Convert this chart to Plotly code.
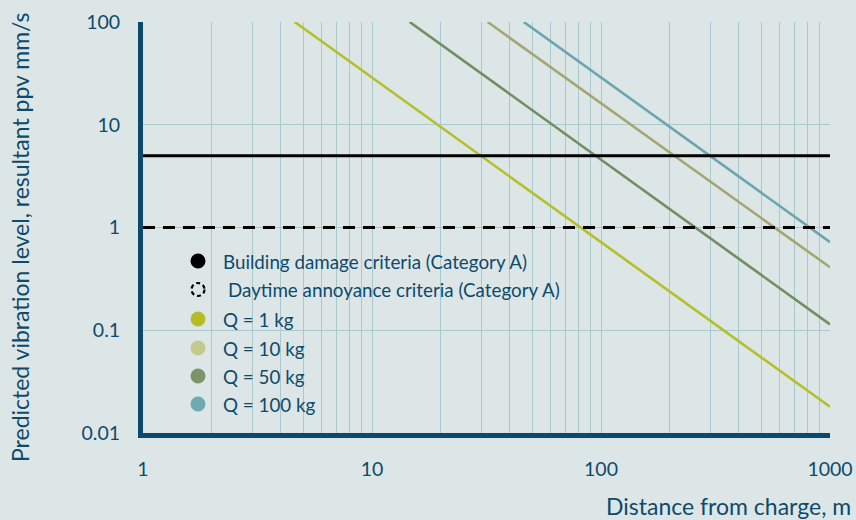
import plotly.graph_objects as go

# ---- data ----
charges = ["Q = 1 kg", "Q = 10 kg", "Q = 50 kg", "Q = 100 kg"]
# endpoints of each predicted-ppv line (distance m, ppv mm/s)
q1_x, q1_y = [4.6, 1000], [100, 0.018]
q10_x, q10_y = [14.6, 1000], [100, 0.114]
q50_x, q50_y = [32, 1000], [100, 0.41]
q100_x, q100_y = [46, 1000], [100, 0.72]

criteria_names = ["Building damage criteria (Category A)", "Daytime annoyance criteria (Category A)"]
criteria_values = [5, 1]
criteria_x = [1, 1000]

x_tickvals = [1, 2, 3, 4, 5, 6, 7, 8, 9,
              10, 20, 30, 40, 50, 60, 70, 80, 90,
              100, 200, 300, 400, 500, 600, 700, 800, 900, 1000]
x_ticktext = ["1"] + [""] * 8 + ["10"] + [""] * 8 + ["100"] + [""] * 8 + ["1000"]
y_tickvals = [0.01, 0.1, 1, 10, 100]
y_ticktext = ["0.01", "0.1", "1", "10", "100"]

# ---- styles ----
BG = "#dde6e7"
NAVY = "#0b4a6e"
TEXT = "#0d4a6b"
GRID = "#a9c9cd"
FONT = "Lato"
line_colors = ["#b4bf2a", "#6f8e62", "#a3a66e", "#6aa5b0"]
legend_colors = ["#b5bd25", "#c6c98d", "#7a9668", "#6fa9b1"]

fig = go.Figure()

series = [(q1_x, q1_y), (q10_x, q10_y), (q50_x, q50_y), (q100_x, q100_y)]
for (xs, ys), name, col in zip(series, charges, line_colors):
    fig.add_trace(go.Scatter(x=xs, y=ys, mode="lines", name=name,
                             line=dict(color=col, width=2.6), showlegend=False))

for val, name, dash in zip(criteria_values, criteria_names, ["solid", "12px,8px"]):
    fig.add_trace(go.Scatter(x=criteria_x, y=[val, val], mode="lines", name=name,
                             line=dict(color="#000000", width=3, dash=dash),
                             showlegend=False))

# ---- manual legend ----
L, R, T, B = 143, 26, 22, 87
W, H = 856, 520
pw, ph = W - L - R, H - T - B

def px(xp):
    return (xp - L) / pw

def py(yp):
    return (H - B - yp) / ph

legend_rows = [261, 289.5, 319, 348, 376, 404]
legend_labels = criteria_names + charges
marker_fill = ["#000000", None] + legend_colors
marker_x = 198
text_x = [221, 226, 221, 221, 221, 221]
shapes = []
annotations = []
for i, (yr, lab, fill) in enumerate(zip(legend_rows, legend_labels, marker_fill)):
    if fill is None:
        shapes.append(dict(type="circle", xref="paper", yref="paper",
                           xsizemode="pixel", ysizemode="pixel",
                           xanchor=px(marker_x), yanchor=py(yr),
                           x0=-6.5, x1=6.5, y0=-6.5, y1=6.5,
                           line=dict(color="#000000", width=2.2, dash="4px,3px"),
                           fillcolor="rgba(0,0,0,0)"))
    else:
        shapes.append(dict(type="circle", xref="paper", yref="paper",
                           xsizemode="pixel", ysizemode="pixel",
                           xanchor=px(marker_x), yanchor=py(yr),
                           x0=-7.5, x1=7.5, y0=-7.5, y1=7.5,
                           line=dict(width=0), fillcolor=fill))
    annotations.append(dict(text=lab, x=px(text_x[i]), y=py(yr), xref="paper", yref="paper",
                            xanchor="left", yanchor="middle", showarrow=False,
                            font=dict(family=FONT, size=18.8, color=TEXT)))

# axis titles
annotations.append(dict(text="Predicted vibration level, resultant ppv mm/s",
                        x=px(20), y=py(237), xref="paper", yref="paper",
                        xanchor="center", yanchor="middle", textangle=-90, showarrow=False,
                        font=dict(family=FONT, size=23, color=TEXT)))
annotations.append(dict(text="Distance from charge, m",
                        x=px(853), y=py(506), xref="paper", yref="paper",
                        xanchor="right", yanchor="middle", showarrow=False,
                        font=dict(family=FONT, size=23, color=TEXT)))

fig.update_layout(
    width=W, height=H,
    margin=dict(l=L, r=R, t=T, b=B),
    paper_bgcolor=BG, plot_bgcolor=BG,
    showlegend=False,
    shapes=shapes, annotations=annotations,
    font=dict(family=FONT, color=TEXT, size=19),
)
fig.update_xaxes(type="log", range=[0, 3], tickvals=x_tickvals, ticktext=x_ticktext,
                 showgrid=True, gridcolor=GRID, gridwidth=1,
                 showline=True, linecolor=NAVY, linewidth=5,
                 ticks="", ticklabelstandoff=15, zeroline=False, automargin=False,
                 tickfont=dict(family=FONT, size=19.5, color=TEXT))
fig.update_yaxes(type="log", range=[-2, 2], tickvals=y_tickvals, ticktext=y_ticktext,
                 showgrid=True, gridcolor=GRID, gridwidth=1,
                 showline=True, linecolor=NAVY, linewidth=5,
                 ticks="", ticklabelstandoff=14, zeroline=False, automargin=False,
                 tickfont=dict(family=FONT, size=19.5, color=TEXT))

fig.write_html("out.html")
